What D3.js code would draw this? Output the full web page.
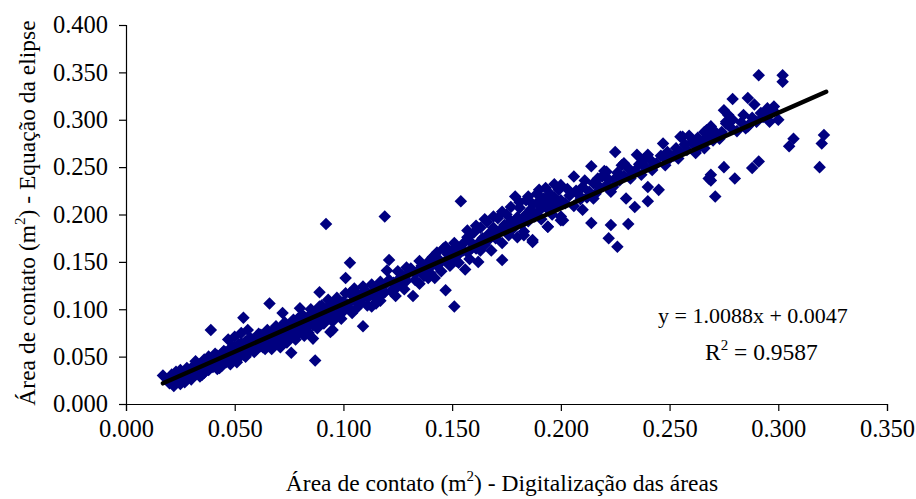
<!DOCTYPE html>
<html>
<head>
<meta charset="utf-8">
<script src="https://cdn.jsdelivr.net/npm/d3@7"></script>
<style>
  html, body { margin: 0; padding: 0; background: #fff; }
  svg { display: block; font-family: "Liberation Serif", "Times New Roman", serif; }
</style>
</head>
<body>
<svg id="chart" width="916" height="499"></svg>
<script>
// Contact area (m²): digitized areas (x) vs. ellipse equation (y)
const digitizedArea = [
  0.017,0.019,0.020,0.021,0.022,0.022,0.023,0.024,0.024,0.025,0.025,0.026,0.027,0.027,0.028,0.029,0.030,0.030,0.031,0.032,0.032,0.033,0.034,0.034,0.035,0.036,0.036,0.037,0.038,0.038,0.039,0.039,0.040,0.040,
  0.041,0.042,0.042,0.043,0.044,0.044,0.045,0.046,0.046,0.047,0.047,0.048,0.048,0.049,0.050,0.050,0.050,0.051,0.052,0.052,0.053,0.053,0.054,0.054,0.055,0.055,0.056,0.056,0.057,0.058,0.058,0.059,0.060,0.060,0.061,0.062,0.062,0.063,0.064,0.064,0.065,0.066,0.066,
  0.066,0.067,0.068,0.068,0.069,0.070,0.071,0.071,0.072,0.072,0.073,0.074,0.074,0.075,0.076,0.076,0.077,0.078,0.078,0.079,0.080,0.080,0.081,0.082,0.082,0.083,0.084,0.084,0.085,0.086,0.086,0.087,0.087,0.088,0.088,0.089,0.089,0.090,0.090,0.091,0.092,0.092,0.093,0.094,0.094,0.095,
  0.095,0.096,0.097,0.098,0.099,0.100,0.100,0.101,0.102,0.103,0.103,0.104,0.105,0.106,0.107,0.108,0.109,0.109,0.110,0.111,0.112,0.113,0.114,0.115,0.116,0.117,0.118,0.119,0.119,0.120,0.121,0.122,0.123,0.124,0.125,0.126,0.127,0.128,0.129,0.130,
  0.131,0.132,0.133,0.134,0.135,0.136,0.137,0.138,0.139,0.140,0.141,0.142,0.142,0.143,0.144,0.145,0.146,0.147,0.147,0.148,0.149,0.150,0.151,0.152,0.152,0.153,0.154,0.155,0.156,0.157,0.157,0.158,0.159,0.160,0.161,0.162,0.163,0.163,0.164,0.165,
  0.166,0.167,0.168,0.169,0.170,0.171,0.172,0.173,0.173,0.174,0.175,0.176,0.177,0.178,0.179,0.180,0.180,0.181,0.182,0.183,0.184,0.184,0.185,0.186,0.187,0.187,0.188,0.189,0.190,0.190,0.191,0.192,0.193,0.194,0.195,0.195,0.196,0.197,0.198,0.199,0.200,0.200,
  0.200,0.206,0.214,0.217,0.221,0.225,0.229,0.235,0.240,0.247,0.247,0.240,0.245,0.230,0.234,0.240,0.223,0.215,0.210,0.200,0.214,0.223,0.231,0.222,0.226,0.194,0.187,0.183,0.201,
  0.202,0.204,0.206,0.207,0.209,0.210,0.212,0.213,0.215,0.216,0.218,0.219,0.221,0.222,0.224,0.226,0.227,0.229,0.231,0.232,0.234,0.236,0.237,0.239,0.241,0.242,0.244,0.246,0.248,0.250,
  0.255,0.256,0.263,0.262,0.266,0.267,0.268,0.273,0.276,0.275,0.277,0.276,0.279,0.286,0.289,0.285,0.286,0.290,0.292,0.295,0.296,0.298,0.300,0.291,0.302,0.302,0.321,0.320,0.319,0.307,0.305,0.291,0.288,0.275,0.269,0.280,0.271,0.268,0.269,
  0.252,0.253,0.255,0.257,0.258,0.260,0.262,0.263,0.265,0.266,0.268,0.270,0.271,0.273,0.278,0.281,0.283,0.288,0.296,0.298,
  0.021,0.023,0.026,0.028,0.031,0.033,0.035,0.037,0.039,0.041,0.043,0.045,0.047,0.049,0.051,0.053,0.055,0.057,0.059,0.061,0.063,0.065,0.067,0.069,
  0.071,0.073,0.075,0.077,0.079,0.081,0.083,0.085,0.087,0.089,0.091,0.093,0.095,0.097,0.099,0.101,0.103,0.105,0.107,0.109,0.111,0.113,0.115,0.117,0.119,0.121,0.123,0.125,0.127,0.129,
  0.133,0.135,0.137,0.139,0.141,0.143,0.145,0.147,0.149,0.151,0.153,0.155,0.157,0.159,0.161,0.163,0.165,0.167,0.169,0.171,0.173,0.175,0.177,0.179,0.181,0.183,0.185,0.187,0.189,0.191,0.193,0.195,0.197,0.199,
  0.203,0.208,0.211,0.217,0.220,0.225,0.228,0.233,0.238,0.243,0.249,0.254,0.259,0.264,0.269,0.274,0.279,0.284,0.287,0.293
];
const ellipseArea = [
  0.030,0.026,0.022,0.031,0.019,0.027,0.034,0.024,0.029,0.021,0.036,0.027,0.031,0.023,0.038,0.029,0.034,0.026,0.040,0.031,0.045,0.036,0.029,0.042,0.038,0.033,0.047,0.041,0.036,0.050,0.044,0.078,0.039,0.047,
  0.042,0.051,0.037,0.046,0.053,0.040,0.048,0.044,0.055,0.050,0.068,0.042,0.058,0.053,0.047,0.060,0.071,0.055,0.049,0.063,0.057,0.075,0.052,0.091,0.060,0.066,0.054,0.078,0.062,0.057,0.068,0.063,0.058,0.070,0.065,0.061,0.073,0.067,0.058,0.071,0.063,0.106,0.075,
  0.062,0.070,0.078,0.064,0.073,0.068,0.080,0.060,0.075,0.096,0.070,0.082,0.065,0.078,0.054,0.086,0.073,0.083,0.068,0.090,0.078,0.101,0.085,0.072,0.092,0.081,0.088,0.075,0.095,0.083,0.069,0.046,0.091,0.098,0.080,0.118,0.087,0.094,0.104,0.085,0.099,0.190,0.091,0.076,0.105,0.096,
  0.078,0.107,0.094,0.102,0.090,0.108,0.098,0.133,0.105,0.117,0.149,0.096,0.110,0.101,0.115,0.106,0.082,0.112,0.120,0.104,0.114,0.103,0.118,0.111,0.122,0.109,0.116,0.198,0.126,0.141,0.152,0.119,0.128,0.114,0.124,0.133,0.136,0.121,0.130,0.138,
  0.143,0.114,0.131,0.140,0.127,0.146,0.135,0.141,0.150,0.138,0.155,0.133,0.157,0.146,0.152,0.140,0.164,0.120,0.151,0.158,0.146,0.162,0.103,0.166,0.151,0.158,0.214,0.169,0.142,0.176,0.160,0.153,0.170,0.181,0.164,0.150,0.162,0.186,0.175,0.168,
  0.192,0.180,0.162,0.186,0.175,0.196,0.183,0.152,0.170,0.189,0.200,0.178,0.193,0.185,0.219,0.197,0.176,0.207,0.190,0.182,0.215,0.200,0.193,0.205,0.173,0.211,0.198,0.212,0.204,0.226,0.195,0.217,0.208,0.187,0.222,0.213,0.200,0.218,0.209,0.226,0.215,0.194,
  0.231,0.240,0.251,0.238,0.245,0.266,0.254,0.263,0.263,0.261,0.275,0.229,0.226,0.217,0.208,0.214,0.224,0.217,0.205,0.198,0.191,0.189,0.190,0.175,0.166,0.187,0.171,0.178,0.194,
  0.212,0.220,0.209,0.225,0.216,0.229,0.218,0.224,0.233,0.222,0.228,0.240,0.231,0.237,0.229,0.244,0.236,0.241,0.249,0.238,0.246,0.253,0.242,0.250,0.258,0.247,0.254,0.262,0.252,0.259,
  0.282,0.282,0.279,0.272,0.287,0.289,0.282,0.284,0.296,0.310,0.305,0.298,0.322,0.323,0.316,0.291,0.293,0.298,0.307,0.312,0.298,0.314,0.300,0.347,0.347,0.340,0.284,0.275,0.250,0.280,0.272,0.256,0.249,0.250,0.242,0.238,0.219,0.238,0.236,
  0.262,0.270,0.266,0.274,0.268,0.276,0.265,0.281,0.277,0.270,0.285,0.278,0.287,0.280,0.292,0.288,0.297,0.302,0.305,0.309,
  0.025,0.030,0.033,0.026,0.035,0.041,0.031,0.046,0.040,0.053,0.038,0.056,0.046,0.061,0.044,0.064,0.050,0.070,0.055,0.074,0.060,0.078,0.058,0.082,
  0.066,0.086,0.070,0.089,0.074,0.094,0.077,0.100,0.084,0.103,0.093,0.110,0.087,0.112,0.101,0.117,0.100,0.122,0.108,0.124,0.113,0.126,0.106,0.129,0.118,0.131,0.122,0.140,0.127,0.144,
  0.138,0.151,0.143,0.133,0.147,0.160,0.150,0.166,0.155,0.170,0.149,0.162,0.183,0.164,0.188,0.172,0.195,0.174,0.198,0.180,0.203,0.186,0.208,0.191,0.213,0.197,0.219,0.203,0.222,0.208,0.228,0.204,0.232,0.210,
  0.227,0.221,0.236,0.231,0.246,0.238,0.252,0.244,0.258,0.252,0.266,0.259,0.283,0.272,0.293,0.287,0.300,0.305,0.296,0.303
];
const points = digitizedArea.map((x, i) => ({ x, y: ellipseArea[i] }));

// Linear trend line
const slope = 1.0088;
const intercept = 0.0047;
const rSquared = 0.9587;
const trendRange = [0.017, 0.322];

const xTicks = [0, 0.05, 0.1, 0.15, 0.2, 0.25, 0.3, 0.35];
const yTicks = [0, 0.05, 0.1, 0.15, 0.2, 0.25, 0.3, 0.35, 0.4];

const svg = d3.select("#chart");
const plot = { left: 126, right: 887, top: 25, bottom: 404 };

const x = d3.scaleLinear().domain([0, 0.35]).range([plot.left, plot.right]);
const y = d3.scaleLinear().domain([0, 0.4]).range([plot.bottom, plot.top]);
const fmt = d3.format(".3f");

// Markers
const diamond = d3.symbol().type(d3.symbolDiamond2).size(100);
svg.append("g")
  .selectAll("path")
  .data(points)
  .join("path")
  .attr("d", diamond)
  .attr("transform", d => `translate(${x(d.x)},${y(d.y)})`)
  .attr("fill", "#000080");

// Trend line
svg.append("path")
  .datum(trendRange.map(v => ({ x: v, y: slope * v + intercept })))
  .attr("d", d3.line().x(d => x(d.x)).y(d => y(d.y)))
  .attr("stroke", "#000")
  .attr("stroke-width", 4.5)
  .attr("stroke-linecap", "round")
  .attr("fill", "none");

// Axes
const xAxis = svg.append("g")
  .attr("transform", `translate(0,${plot.bottom})`)
  .call(d3.axisBottom(x).tickValues(xTicks).tickFormat(fmt).tickSize(7).tickPadding(9));
const yAxis = svg.append("g")
  .attr("transform", `translate(${plot.left},0)`)
  .call(d3.axisLeft(y).tickValues(yTicks).tickFormat(fmt).tickSize(7).tickPadding(11));

[xAxis, yAxis].forEach(g => {
  g.attr("font-family", null).attr("font-size", null);
  g.select(".domain").attr("stroke", "#000").attr("stroke-width", 1.2);
  g.selectAll(".tick line").attr("stroke", "#000").attr("stroke-width", 1.2);
  g.selectAll(".tick text")
    .attr("fill", "#000")
    .style("font-family", '"Liberation Serif", "Times New Roman", serif')
    .style("font-size", "24.5px");
});

// Axis titles
const xTitle = svg.append("text")
  .attr("x", 502).attr("y", 491)
  .attr("text-anchor", "middle")
  .style("font-size", "23.5px");
xTitle.append("tspan").text("Área de contato (m");
xTitle.append("tspan").attr("dy", -10).style("font-size", "15px").text("2");
xTitle.append("tspan").attr("dy", 10).text(") - Digitalização das áreas");

const yTitle = svg.append("text")
  .attr("transform", "translate(35,213) rotate(-90)")
  .attr("text-anchor", "middle")
  .style("font-size", "23.5px");
yTitle.append("tspan").text("Área de contato (m");
yTitle.append("tspan").attr("dy", -10).style("font-size", "15px").text("2");
yTitle.append("tspan").attr("dy", 10).text(") - Equação da elipse");

// Regression annotation
svg.append("text")
  .attr("x", 658).attr("y", 323)
  .style("font-size", "22px")
  .text(`y = ${slope.toFixed(4)}x + ${intercept.toFixed(4)}`);
const r2 = svg.append("text")
  .attr("x", 705).attr("y", 360)
  .style("font-size", "23.5px");
r2.append("tspan").text("R");
r2.append("tspan").attr("dy", -10).style("font-size", "15px").text("2");
r2.append("tspan").attr("dy", 10).text(` = ${rSquared.toFixed(4)}`);
</script>
</body>
</html>
